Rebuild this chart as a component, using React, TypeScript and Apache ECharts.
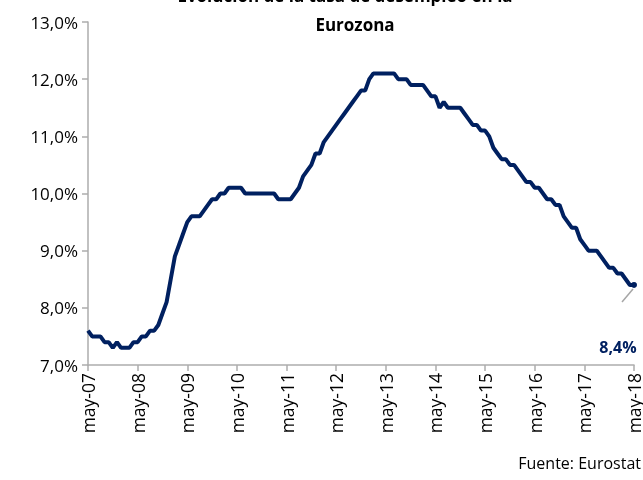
import React, { useEffect, useRef } from "react";
import * as echarts from "echarts";

const titleLines = ["Evolución de la tasa de desempleo en la", "Eurozona"];
const sourceText = "Fuente: Eurostat";
const monthNames = ["ene", "feb", "mar", "abr", "may", "jun", "jul", "ago", "sep", "oct", "nov", "dic"];
const startYear = 2007;
const startMonth = 4; // may
const unemployment = [
  7.6, 7.5, 7.5, 7.5, 7.4, 7.4, 7.3, 7.4, 7.3, 7.3, 7.3, 7.4,
  7.4, 7.5, 7.5, 7.6, 7.6, 7.7, 7.9, 8.1, 8.5, 8.9, 9.1, 9.3,
  9.5, 9.6, 9.6, 9.6, 9.7, 9.8, 9.9, 9.9, 10.0, 10.0, 10.1, 10.1,
  10.1, 10.1, 10.0, 10.0, 10.0, 10.0, 10.0, 10.0, 10.0, 10.0, 9.9, 9.9,
  9.9, 9.9, 10.0, 10.1, 10.3, 10.4, 10.5, 10.7, 10.7, 10.9, 11.0, 11.1,
  11.2, 11.3, 11.4, 11.5, 11.6, 11.7, 11.8, 11.8, 12.0, 12.1, 12.1, 12.1,
  12.1, 12.1, 12.1, 12.0, 12.0, 12.0, 11.9, 11.9, 11.9, 11.9, 11.8, 11.7,
  11.7, 11.5, 11.6, 11.5, 11.5, 11.5, 11.5, 11.4, 11.3, 11.2, 11.2, 11.1,
  11.1, 11.0, 10.8, 10.7, 10.6, 10.6, 10.5, 10.5, 10.4, 10.3, 10.2, 10.2,
  10.1, 10.1, 10.0, 9.9, 9.9, 9.8, 9.8, 9.6, 9.5, 9.4, 9.4, 9.2,
  9.1, 9.0, 9.0, 9.0, 8.9, 8.8, 8.7, 8.7, 8.6, 8.6, 8.5, 8.4,
  8.4,
];

const categories: string[] = unemployment.map((_, i) => {
  const m = (startMonth + i) % 12;
  const y = startYear + Math.floor((startMonth + i) / 12);
  return `${monthNames[m]}-${String(y % 100).padStart(2, "0")}`;
});

const fmt = (v: number) => v.toFixed(1).replace(".", ",") + "%";

export default function App() {
  const ref = useRef<HTMLDivElement>(null);
  useEffect(() => {
    if (!ref.current) return;
    const chart = echarts.init(ref.current, undefined, { renderer: "svg" });
    const font = "'Open Sans', sans-serif";
    const last = unemployment.length - 1;
    const navy = "#002060";
    chart.setOption({
      animation: false,
      textStyle: { fontFamily: font },
      grid: { left: 88, right: 9, top: 22, bottom: 115, containLabel: false },
      xAxis: {
        type: "category",
        data: categories,
        boundaryGap: false,
        axisLine: { lineStyle: { color: "#ADADAD", width: 1.5 } },
        axisTick: { show: true, interval: 11, length: 6, lineStyle: { color: "#ADADAD", width: 1.5 } },
        axisLabel: {
          interval: 11,
          rotate: 90,
          fontSize: 17.5,
          color: "#000",
          margin: 8,
          fontFamily: font,
        },
      },
      yAxis: {
        type: "value",
        min: 7,
        max: 13,
        interval: 1,
        splitLine: { show: false },
        axisLine: { show: true, lineStyle: { color: "#ADADAD", width: 1.5 } },
        axisTick: { show: true, length: 6, lineStyle: { color: "#ADADAD", width: 1.5 } },
        axisLabel: {
          formatter: (v: number) => fmt(v),
          fontSize: 17,
          color: "#000",
          margin: 10,
          fontFamily: font,
        },
      },
      series: [
        {
          type: "line",
          data: unemployment.map((v, i) =>
            i === last
              ? { value: v, symbol: "circle", symbolSize: 6, itemStyle: { color: navy } }
              : { value: v, symbol: "none" }
          ),
          lineStyle: { color: navy, width: 4 },
          itemStyle: { color: navy },
        },
      ],
    });

    const pt = chart.convertToPixel({ gridIndex: 0 }, [last, unemployment[last]]) as number[];
    chart.setOption({
      graphic: [
        {
          type: "text",
          x: 345,
          y: -5,
          style: {
            text: titleLines[0],
            font: `bold 17px ${font}`,
            fill: "#000",
            textAlign: "center",
            textVerticalAlign: "middle",
          },
        },
        {
          type: "text",
          x: 355,
          y: 24,
          style: {
            text: titleLines[1],
            font: `bold 17px ${font}`,
            fill: "#000",
            textAlign: "center",
            textVerticalAlign: "middle",
          },
        },
        {
          type: "text",
          x: 641,
          y: 463,
          style: {
            text: sourceText,
            font: `16px ${font}`,
            fill: "#000",
            textAlign: "right",
            textVerticalAlign: "middle",
          },
        },
        {
          type: "line",
          shape: { x1: pt[0] - 1, y1: pt[1] + 4, x2: pt[0] - 12, y2: pt[1] + 17 },
          style: { stroke: "#A6A6A6", lineWidth: 1.5 },
        },
        {
          type: "text",
          x: pt[0] - 16,
          y: pt[1] + 62,
          style: {
            text: fmt(unemployment[last]),
            font: `bold 16px ${font}`,
            fill: navy,
            textAlign: "center",
            textVerticalAlign: "middle",
          },
        },
      ],
    });
    return () => chart.dispose();
  }, []);
  return <div ref={ref} style={{ position: "fixed", left: 0, top: 0, width: 643, height: 480 }} />;
}
